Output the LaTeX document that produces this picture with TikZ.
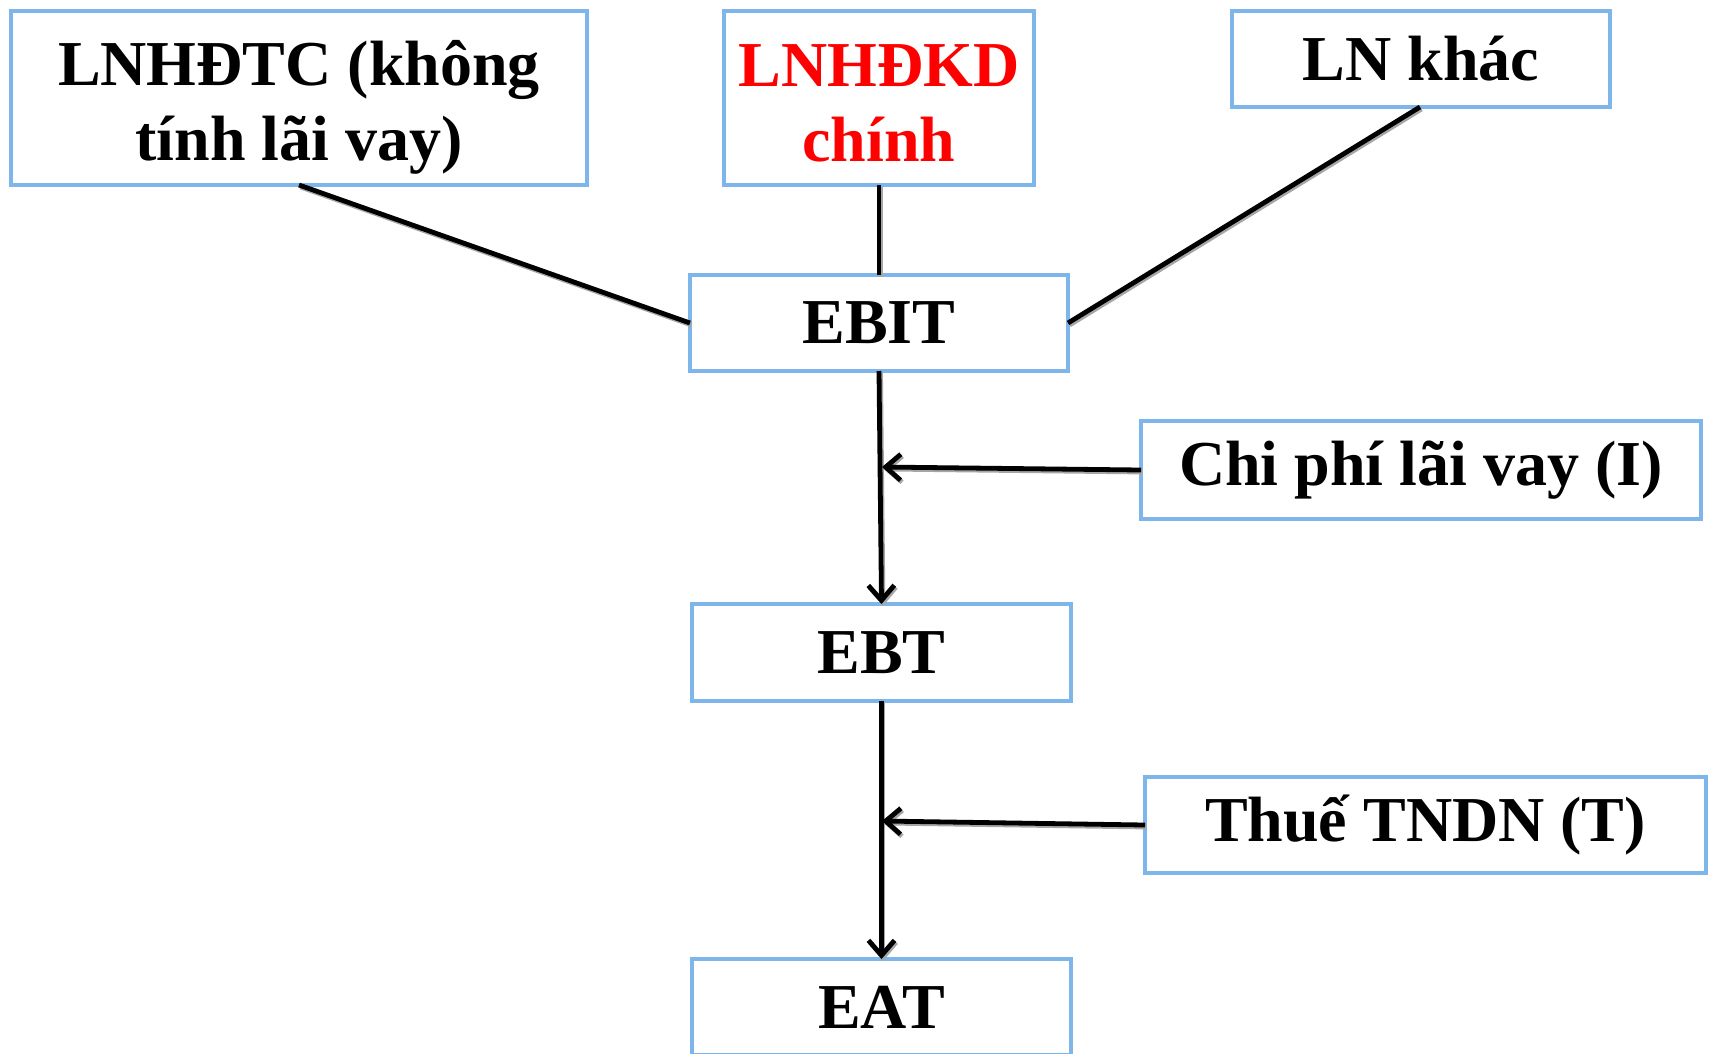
\documentclass[tikz,border=0pt]{standalone}
\usepackage{fontspec}
\setmainfont{Liberation Serif}
\usetikzlibrary{arrows.meta}
\definecolor{boxblue}{RGB}{126,181,234}
\definecolor{txtred}{RGB}{255,0,0}
\begin{document}
\begin{tikzpicture}[x=1pt,y=-1pt,
  box/.style={draw=boxblue, line width=4.8pt, fill=white, inner sep=0pt, outer sep=0pt,
    font=\fontsize{64}{75}\selectfont\bfseries, align=center},
  conn/.style={line width=4.8pt, draw=black,
    preaction={draw=black!35, line width=4.8pt, transform canvas={shift={(1.5pt,-2pt)}}}},
  arr/.style={conn, -{Straight Barb[length=15pt,width=26pt,line width=4.8pt]}}
]
\useasboundingbox (0,0) rectangle (1712,1053);
\fill[white] (0,0) rectangle (1712,1053);

\node[box, minimum width=576pt, minimum height=174pt] (tc) at (299,98) {\rule{0pt}{64pt}LNHĐTC (không\\tính lãi vay)};
\node[box, minimum width=310pt, minimum height=174pt, text=txtred] (kd) at (879,98) {\rule{0pt}{52pt}LNHĐKD\\chính};
\node[box, minimum width=378pt, minimum height=96pt] (lnk) at (1421,59) {LN khác};
\node[box, minimum width=378pt, minimum height=96pt] (ebit) at (879,323) {EBIT};
\node[box, minimum width=560pt, minimum height=98pt] (cp) at (1421,470) {Chi phí lãi vay (I)};
\node[box, minimum width=379pt, minimum height=97pt] (ebt) at (881.5,652.5) {EBT};
\node[box, minimum width=561pt, minimum height=96pt] (thue) at (1425.5,825) {Thuế TNDN (T)};
\node[box, minimum width=379pt, minimum height=96pt] (eat) at (881.5,1007) {EAT};

\coordinate (tcb) at (299,185);
\coordinate (ebitl) at (690,323);
\coordinate (lnkb) at (1420,107);
\coordinate (ebitr) at (1068,323);
\coordinate (ci) at (882,467);
\coordinate (ti) at (882,821);

\draw[conn] (tcb) -- (ebitl);
\draw[conn] (kd.south) -- (ebit.north);
\draw[conn] (lnkb) -- (ebitr);
\draw[arr] (ebit.south) -- (ebt.north);
\draw[arr] (cp.west) -- (ci);
\draw[arr] (ebt.south) -- (eat.north);
\draw[arr] (thue.west) -- (ti);
\end{tikzpicture}
\end{document}
